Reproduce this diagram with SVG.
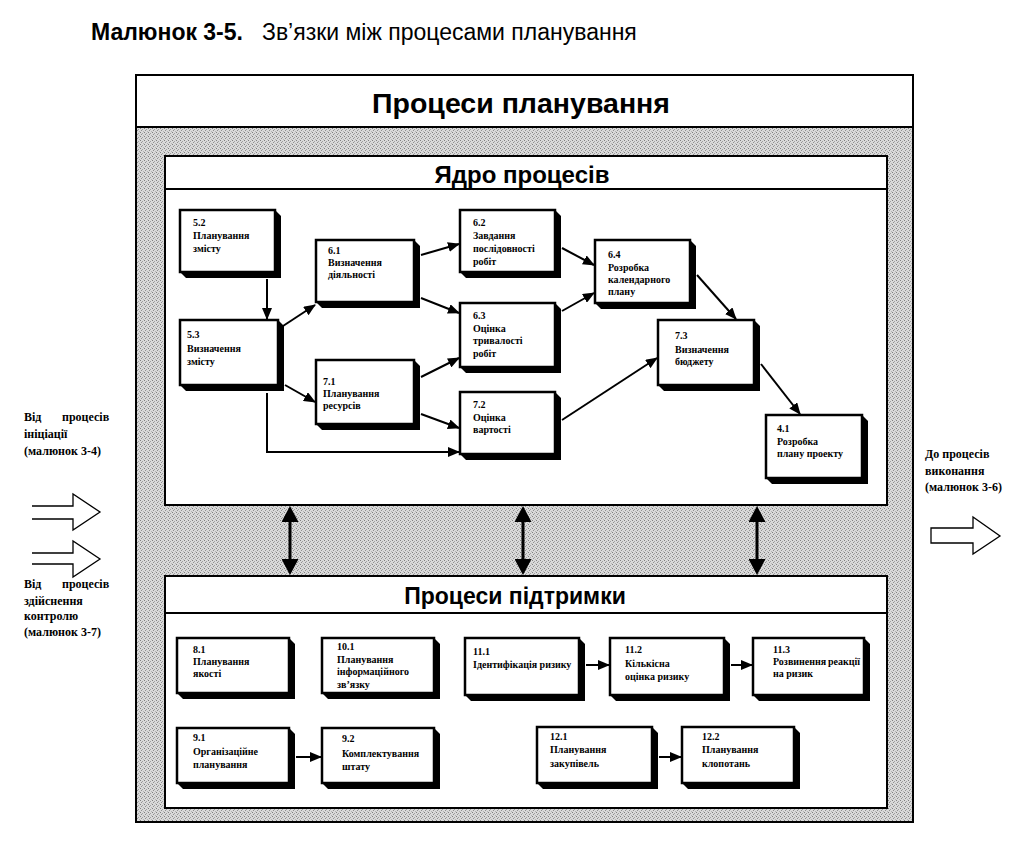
<svg xmlns="http://www.w3.org/2000/svg" width="1022" height="847" viewBox="0 0 1022 847">
<defs>
<pattern id="stipple" width="4" height="4" patternUnits="userSpaceOnUse">
<rect width="4" height="4" fill="#dadada"/>
<rect x="0" y="0" width="1" height="1" fill="#808080"/>
<rect x="2" y="1" width="1" height="1" fill="#a0a0a0"/>
<rect x="1" y="2" width="1" height="1" fill="#909090"/>
<rect x="3" y="3" width="1" height="1" fill="#b4b4b4"/>
</pattern>
<marker id="ah" markerUnits="userSpaceOnUse" markerWidth="12" markerHeight="10" refX="11" refY="5" orient="auto">
<path d="M0,0 L12,5 L0,10 z" fill="#000"/>
</marker>
<marker id="dh" markerUnits="userSpaceOnUse" markerWidth="16" markerHeight="17" refX="1" refY="8.5" orient="auto-start-reverse">
<path d="M0,0 L16,8.5 L0,17 z" fill="#000"/>
</marker>
</defs>
<style>
.cap{font-family:"Liberation Sans",Arial,sans-serif;fill:#000}
.hd{font-family:"Liberation Sans",Arial,sans-serif;font-weight:bold;fill:#000}
.t{font-family:"Liberation Serif","Times New Roman",serif;font-size:10px;font-weight:bold;fill:#000}
.side{font-family:"Liberation Serif","Times New Roman",serif;font-size:12px;font-weight:bold;fill:#000}
.frame{fill:#fff;stroke:#000;stroke-width:2}
.box{fill:#fff;stroke:#000;stroke-width:2.5}
.sh{fill:#000}
.conn{stroke:#000;stroke-width:2;fill:none}
.dbl{stroke:#000;stroke-width:3;fill:none}
.out{fill:#fff;stroke:#000;stroke-width:1.3}
</style>

<text class="cap" x="91" y="40" font-size="23" font-weight="bold">Малюнок 3-5.</text>
<text class="cap" x="262" y="40" font-size="23">Зв’язки між процесами планування</text>

<g id="frame">
<rect x="136" y="127" width="777" height="695" fill="url(#stipple)" stroke="#000" stroke-width="2"/>
<rect class="frame" x="136" y="75" width="777" height="52"/>
<text class="hd" x="521" y="113" font-size="28.5" text-anchor="middle">Процеси планування</text>
</g>

<g id="core">
<rect class="frame" x="165" y="156" width="722" height="349"/>
<line x1="165" y1="189" x2="887" y2="189" stroke="#000" stroke-width="2"/>
<text class="hd" x="522" y="183" font-size="24" text-anchor="middle">Ядро процесів</text>
</g>

<g id="support">
<rect class="frame" x="165" y="576" width="722" height="232"/>
<line x1="165" y1="613" x2="887" y2="613" stroke="#000" stroke-width="2"/>
<text class="hd" x="515" y="604" font-size="23" text-anchor="middle">Процеси підтримки</text>
</g>

<g id="n52"><polygon class="sh" points="275,210 281,216 281,278 186,278 180,272"/><rect class="box" x="180" y="210" width="95" height="62"/>
<text class="t" x="193" y="226">5.2</text><text class="t" x="193" y="239">Планування</text><text class="t" x="193" y="252">змісту</text></g>
<g id="n61"><polygon class="sh" points="414,240 420,246 420,308 322,308 316,302"/><rect class="box" x="316" y="240" width="98" height="62"/>
<text class="t" x="328" y="254">6.1</text><text class="t" x="328" y="266">Визначення</text><text class="t" x="328" y="278">діяльності</text></g>
<g id="n53"><polygon class="sh" points="278,320 284,326 284,391 186,391 180,385"/><rect class="box" x="180" y="320" width="98" height="65"/>
<text class="t" x="187" y="338">5.3</text><text class="t" x="187" y="352">Визначення</text><text class="t" x="187" y="365">змісту</text></g>
<g id="n71"><polygon class="sh" points="414,360 420,366 420,430 322,430 316,424"/><rect class="box" x="316" y="360" width="98" height="64"/>
<text class="t" x="323" y="385">7.1</text><text class="t" x="323" y="397">Планування</text><text class="t" x="323" y="409">ресурсів</text></g>
<g id="n62"><polygon class="sh" points="555,210 561,216 561,278 466,278 460,272"/><rect class="box" x="460" y="210" width="95" height="62"/>
<text class="t" x="473" y="226">6.2</text><text class="t" x="473" y="239">Завдання</text><text class="t" x="473" y="252">послідовності</text><text class="t" x="473" y="265">робіт</text></g>
<g id="n63"><polygon class="sh" points="555,303 561,309 561,373 466,373 460,367"/><rect class="box" x="460" y="303" width="95" height="64"/>
<text class="t" x="473" y="319">6.3</text><text class="t" x="473" y="332">Оцінка</text><text class="t" x="473" y="344">тривалості</text><text class="t" x="473" y="357">робіт</text></g>
<g id="n72"><polygon class="sh" points="555,392 561,398 561,460 466,460 460,454"/><rect class="box" x="460" y="392" width="95" height="62"/>
<text class="t" x="473" y="408">7.2</text><text class="t" x="473" y="421">Оцінка</text><text class="t" x="473" y="433">вартості</text></g>
<g id="n64"><polygon class="sh" points="690,240 696,246 696,309 601,309 595,303"/><rect class="box" x="595" y="240" width="95" height="63"/>
<text class="t" x="608" y="258">6.4</text><text class="t" x="608" y="271">Розробка</text><text class="t" x="608" y="283">календарного</text><text class="t" x="608" y="295">плану</text></g>
<g id="n73"><polygon class="sh" points="754,320 760,326 760,391 664,391 658,385"/><rect class="box" x="658" y="320" width="96" height="65"/>
<text class="t" x="675" y="339">7.3</text><text class="t" x="675" y="353">Визначення</text><text class="t" x="675" y="365">бюджету</text></g>
<g id="n41"><polygon class="sh" points="862,415 868,421 868,484 772,484 766,478"/><rect class="box" x="766" y="415" width="96" height="63"/>
<text class="t" x="777" y="432">4.1</text><text class="t" x="777" y="445">Розробка</text><text class="t" x="777" y="457">плану проекту</text></g>

<g id="n81"><polygon class="sh" points="289,638 295,644 295,699 183,699 177,693"/><rect class="box" x="177" y="638" width="112" height="55"/>
<text class="t" x="193" y="653">8.1</text><text class="t" x="193" y="665">Планування</text><text class="t" x="193" y="677">якості</text></g>
<g id="n101"><polygon class="sh" points="434,638 440,644 440,699 328,699 322,693"/><rect class="box" x="322" y="638" width="112" height="55"/>
<text class="t" x="337" y="650">10.1</text><text class="t" x="337" y="663">Планування</text><text class="t" x="337" y="675">інформаційного</text><text class="t" x="337" y="688">зв’язку</text></g>
<g id="n91"><polygon class="sh" points="289,728 295,734 295,789 183,789 177,783"/><rect class="box" x="177" y="728" width="112" height="55"/>
<text class="t" x="193" y="741">9.1</text><text class="t" x="193" y="755">Організаційне</text><text class="t" x="193" y="768">планування</text></g>
<g id="n92"><polygon class="sh" points="434,728 440,734 440,789 328,789 322,783"/><rect class="box" x="322" y="728" width="112" height="55"/>
<text class="t" x="342" y="742">9.2</text><text class="t" x="342" y="757">Комплектування</text><text class="t" x="342" y="770">штату</text></g>
<g id="n111"><polygon class="sh" points="579,638 585,644 585,701 471,701 465,695"/><rect class="box" x="465" y="638" width="114" height="57"/>
<text class="t" x="473" y="655">11.1</text><text class="t" x="473" y="668">Ідентифікація ризику</text></g>
<g id="n112"><polygon class="sh" points="724,638 730,644 730,701 616,701 610,695"/><rect class="box" x="610" y="638" width="114" height="57"/>
<text class="t" x="625" y="653">11.2</text><text class="t" x="625" y="667">Кількісна</text><text class="t" x="625" y="680">оцінка ризику</text></g>
<g id="n113"><polygon class="sh" points="864,638 870,644 870,701 759,701 753,695"/><rect class="box" x="753" y="638" width="111" height="57"/>
<text class="t" x="773" y="653">11.3</text><text class="t" y="665"><tspan x="773">Розвинення</tspan><tspan x="828">реакції</tspan></text><text class="t" x="773" y="677">на ризик</text></g>
<g id="n121"><polygon class="sh" points="652,727 658,733 658,789 543,789 537,783"/><rect class="box" x="537" y="727" width="115" height="56"/>
<text class="t" x="550" y="740">12.1</text><text class="t" x="550" y="753">Планування</text><text class="t" x="550" y="767">закупівель</text></g>
<g id="n122"><polygon class="sh" points="794,727 800,733 800,789 688,789 682,783"/><rect class="box" x="682" y="727" width="112" height="56"/>
<text class="t" x="702" y="740">12.2</text><text class="t" x="702" y="753">Планування</text><text class="t" x="702" y="767">клопотань</text></g>

<g id="connectors">
<line class="conn" x1="267" y1="279" x2="267" y2="319" marker-end="url(#ah)"/>
<line class="conn" x1="283" y1="326" x2="315" y2="305" marker-end="url(#ah)"/>
<line class="conn" x1="285" y1="385" x2="315" y2="402" marker-end="url(#ah)"/>
<path class="conn" d="M267,393 V452 H459" marker-end="url(#ah)"/>
<line class="conn" x1="421" y1="255" x2="459" y2="244" marker-end="url(#ah)"/>
<line class="conn" x1="421" y1="298" x2="459" y2="313" marker-end="url(#ah)"/>
<line class="conn" x1="421" y1="377" x2="459" y2="358" marker-end="url(#ah)"/>
<line class="conn" x1="421" y1="414" x2="459" y2="428" marker-end="url(#ah)"/>
<line class="conn" x1="562" y1="248" x2="594" y2="265" marker-end="url(#ah)"/>
<line class="conn" x1="562" y1="311" x2="594" y2="293" marker-end="url(#ah)"/>
<line class="conn" x1="562" y1="420" x2="657" y2="358" marker-end="url(#ah)"/>
<line class="conn" x1="697" y1="275" x2="736" y2="319" marker-end="url(#ah)"/>
<line class="conn" x1="761" y1="364" x2="800" y2="414" marker-end="url(#ah)"/>
<line class="conn" x1="296" y1="757" x2="321" y2="757" marker-end="url(#ah)"/>
<line class="conn" x1="586" y1="665" x2="609" y2="665" marker-end="url(#ah)"/>
<line class="conn" x1="731" y1="665" x2="752" y2="665" marker-end="url(#ah)"/>
<line class="conn" x1="659" y1="757" x2="681" y2="757" marker-end="url(#ah)"/>
<line class="dbl" x1="290" y1="521" x2="290" y2="560" marker-start="url(#dh)" marker-end="url(#dh)"/>
<line class="dbl" x1="523" y1="521" x2="523" y2="560" marker-start="url(#dh)" marker-end="url(#dh)"/>
<line class="dbl" x1="757" y1="521" x2="757" y2="560" marker-start="url(#dh)" marker-end="url(#dh)"/>
</g>

<g id="side-left">
<text class="side" y="421"><tspan x="24">Від</tspan><tspan x="62">процесів</tspan></text>
<text class="side" x="24" y="438">ініціації</text>
<text class="side" x="24" y="455">(малюнок 3-4)</text>
<path class="out" d="M32,506 H73 V494 L100,512 L73,530 V519 H32"/>
<path class="out" d="M32,553 H73 V541 L100,559 L73,577 V564 H32"/>
<text class="side" y="588"><tspan x="24">Від</tspan><tspan x="62">процесів</tspan></text>
<text class="side" x="24" y="605">здійснення</text>
<text class="side" x="24" y="620">контролю</text>
<text class="side" x="24" y="636">(малюнок 3-7)</text>
</g>

<g id="side-right">
<text class="side" x="925" y="458">До процесів</text>
<text class="side" x="925" y="475">виконання</text>
<text class="side" x="925" y="491">(малюнок 3-6)</text>
<path class="out" d="M931,528 H973 V517 L1000,536 L973,554 V543 H931 Z"/>
</g>
</svg>
